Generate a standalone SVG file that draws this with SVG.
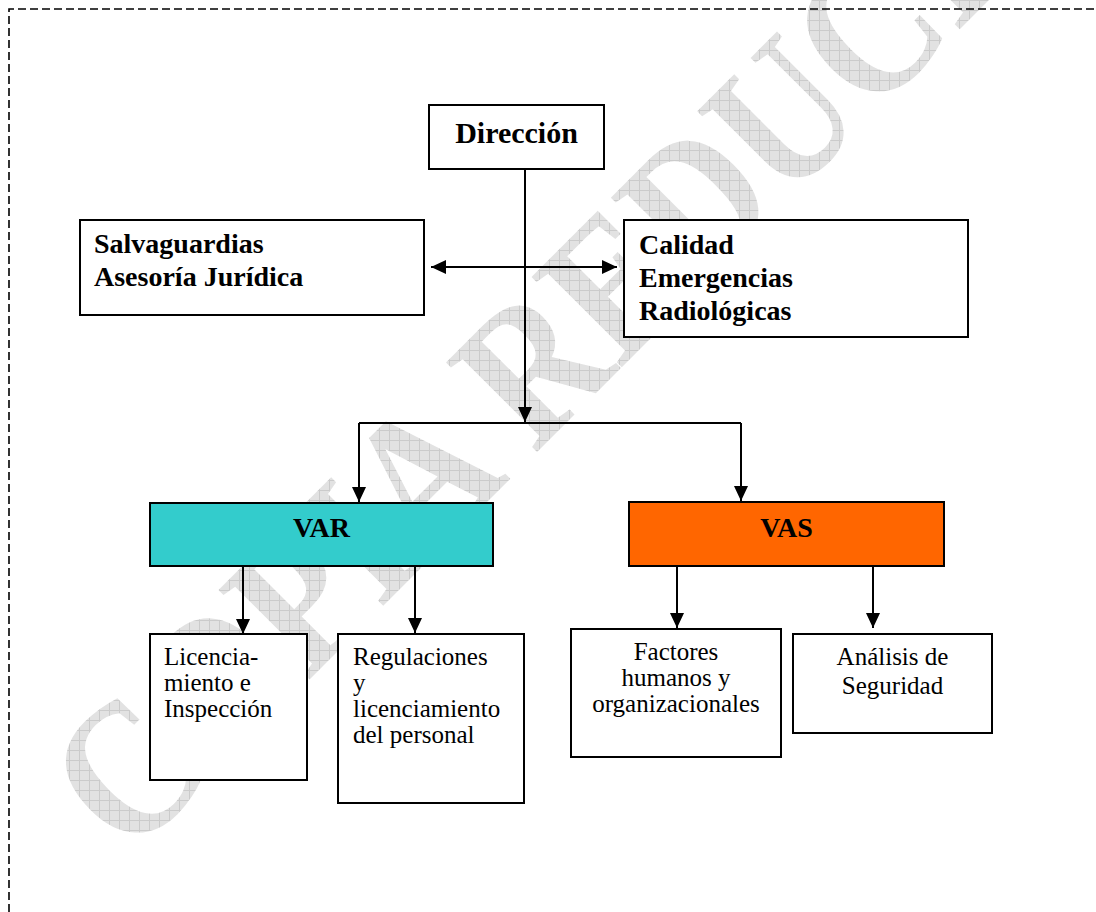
<svg xmlns="http://www.w3.org/2000/svg" width="1096" height="912" viewBox="0 0 1096 912">
  <style>
    .box { fill: #ffffff; stroke: #000000; stroke-width: 2; }
    .bold { font-family: "Liberation Serif", "Times New Roman", serif; font-weight: bold; font-size: 28px; fill: #000000; }
    .reg { font-family: "Liberation Serif", "Times New Roman", serif; font-size: 25px; fill: #000000; }
    .conn { fill: none; stroke: #000000; stroke-width: 2; }
    .border { fill: none; stroke: #000000; stroke-width: 1.6; stroke-dasharray: 8 4; }
    .wm { font-family: "Liberation Serif", "Times New Roman", serif; font-weight: bold; font-size: 195px; }
  </style>
  <defs>
    <marker id="arrow" markerUnits="userSpaceOnUse" markerWidth="15" markerHeight="14" refX="15" refY="7" orient="auto-start-reverse" viewBox="0 0 15 14">
      <path d="M0,0 L15,7 L0,14 z" fill="#000000"/>
    </marker>
    <pattern id="hatch" patternUnits="userSpaceOnUse" width="10" height="10" patternTransform="scale(1.16279,1) rotate(45)">
      <rect width="10" height="10" fill="#e2e2e2"/>
      <path d="M0,0.5 H10 M0.5,0 V10" stroke="#cbcbcb" stroke-width="1"/>
    </pattern>
  </defs>

  <rect width="1096" height="912" fill="#ffffff"/>

  <!-- watermark -->
  <g id="watermark">
    <text class="wm" x="0" y="0" transform="translate(129 860) rotate(-45) scale(0.86 1)" fill="url(#hatch)">COPIA REDUCIDA</text>
  </g>

  <!-- page border -->
  <path class="border" d="M9,912 V9 H1096"/>

  <!-- connectors -->
  <g id="connectors">
    <line class="conn" x1="525" y1="169" x2="525" y2="422" marker-end="url(#arrow)"/>
    <line class="conn" x1="359" y1="423" x2="741" y2="423"/>
    <line class="conn" x1="359" y1="423" x2="359" y2="502" marker-end="url(#arrow)"/>
    <line class="conn" x1="741" y1="423" x2="741" y2="501" marker-end="url(#arrow)"/>
    <line class="conn" x1="431" y1="267" x2="617" y2="267" marker-start="url(#arrow)" marker-end="url(#arrow)"/>
    <line class="conn" x1="243" y1="562" x2="243" y2="634" marker-end="url(#arrow)"/>
    <line class="conn" x1="415" y1="566" x2="415" y2="633" marker-end="url(#arrow)"/>
    <line class="conn" x1="677" y1="566" x2="677" y2="628" marker-end="url(#arrow)"/>
    <line class="conn" x1="873" y1="566" x2="873" y2="628" marker-end="url(#arrow)"/>
  </g>

  <g id="direccion">
    <rect class="box" x="429" y="105" width="175" height="64"/>
    <text class="bold" x="516.5" y="143" text-anchor="middle" style="font-size:30px">Dirección</text>
  </g>

  <g id="salvaguardias">
    <rect class="box" x="80" y="220" width="344" height="95"/>
    <text class="bold" x="94" y="253">Salvaguardias</text>
    <text class="bold" x="94" y="286">Asesoría Jurídica</text>
  </g>

  <g id="calidad">
    <rect class="box" x="624" y="220" width="344" height="117"/>
    <text class="bold" x="639" y="254">Calidad</text>
    <text class="bold" x="639" y="287">Emergencias</text>
    <text class="bold" x="639" y="320">Radiológicas</text>
  </g>

  <g id="var">
    <rect x="150" y="503" width="343" height="63" fill="#33cccc" stroke="#000000" stroke-width="2"/>
    <text class="bold" x="321.5" y="537" text-anchor="middle">VAR</text>
  </g>

  <g id="vas">
    <rect x="629" y="502" width="315" height="64" fill="#ff6600" stroke="#000000" stroke-width="2"/>
    <text class="bold" x="786.5" y="537" text-anchor="middle">VAS</text>
  </g>

  <g id="licenciamiento">
    <rect class="box" x="150" y="634" width="157" height="146"/>
    <text class="reg" x="164" y="665">Licencia-</text>
    <text class="reg" x="164" y="691">miento e</text>
    <text class="reg" x="164" y="717">Inspección</text>
  </g>

  <g id="regulaciones">
    <rect class="box" x="338" y="634" width="186" height="169"/>
    <text class="reg" x="353" y="665">Regulaciones</text>
    <text class="reg" x="353" y="691">y</text>
    <text class="reg" x="353" y="717">licenciamiento</text>
    <text class="reg" x="353" y="743">del personal</text>
  </g>

  <g id="factores">
    <rect class="box" x="571" y="629" width="210" height="128"/>
    <text class="reg" x="676" y="660" text-anchor="middle">Factores</text>
    <text class="reg" x="676" y="686" text-anchor="middle">humanos y</text>
    <text class="reg" x="676" y="712" text-anchor="middle">organizacionales</text>
  </g>

  <g id="analisis">
    <rect class="box" x="793" y="634" width="199" height="99"/>
    <text class="reg" x="892.5" y="665" text-anchor="middle">Análisis de</text>
    <text class="reg" x="892.5" y="694" text-anchor="middle">Seguridad</text>
  </g>
</svg>
